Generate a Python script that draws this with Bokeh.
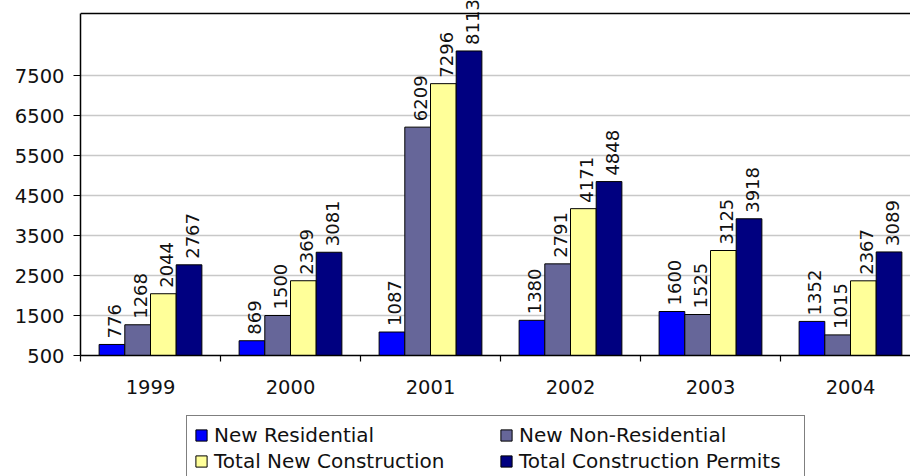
import math
from bokeh.plotting import figure
from bokeh.layouts import column
from bokeh.models import (ColumnDataSource, FixedTicker, Span, Legend, LegendItem, Range1d)
from bokeh.core.properties import value
from bokeh.embed import file_html
from bokeh.resources import INLINE

years = ["1999", "2000", "2001", "2002", "2003", "2004"]
series_names = ["New Residential", "New Non-Residential",
                "Total New Construction", "Total Construction Permits"]
new_residential = [776, 869, 1087, 1380, 1600, 1352]
new_non_residential = [1268, 1500, 6209, 2791, 1525, 1015]
total_new_construction = [2044, 2369, 7296, 4171, 3125, 2367]
total_construction_permits = [2767, 3081, 8113, 4848, 3918, 3089]
y_ticks = [500, 1500, 2500, 3500, 4500, 5500, 6500, 7500]

colors = ["#0000FF", "#666699", "#FFFF99", "#000080"]
all_series = [new_residential, new_non_residential,
              total_new_construction, total_construction_permits]

FONT = "DejaVu Sans"
BASE = 500
AXIS_TOP = 9050
bar_w = 0.1835
H1 = 410

p = figure(width=910, height=H1, output_backend="svg", toolbar_location=None,
           x_range=Range1d(0, 830 / 140), y_range=Range1d(BASE, 9375),
           min_border_left=80, min_border_right=0, min_border_top=0,
           min_border_bottom=H1 - 355)
p.title.visible = False
p.outline_line_color = None
p.background_fill_color = "white"
p.border_fill_color = "white"

# legend-only figure below the chart (its ranges keep the helper bars out of view)
p2 = figure(width=910, height=476 - H1, output_backend="svg", toolbar_location=None,
            x_range=Range1d(-20, -19), y_range=Range1d(-20, -19),
            min_border=0, x_axis_location=None, y_axis_location=None)
p2.title.visible = False
p2.outline_line_color = None
p2.grid.grid_line_color = None
p2.background_fill_color = "white"
p2.border_fill_color = "white"

legend_renderers = []
for k, (vals, col) in enumerate(zip(all_series, colors)):
    xs = [i + 0.5 + (k - 1.5) * bar_w for i in range(len(years))]
    src = ColumnDataSource(dict(x=xs, top=vals, lbl=[str(v) for v in vals]))
    p.vbar(x="x", top="top", bottom=BASE, width=bar_w, source=src,
           fill_color=col, line_color="black", line_width=1)
    p.text(x="x", y="top", text="lbl", source=src, angle=math.pi / 2,
           text_align="left", text_baseline="middle", x_offset=3, y_offset=-6,
           text_font=value(FONT), text_font_size="18px", text_color="#111111")
    r2 = p2.vbar(x="x", top="top", bottom=BASE, width=bar_w, source=src,
                 fill_color=col, line_color="black", line_width=1)
    legend_renderers.append(r2)

# top border line of the plot area
p.add_layout(Span(location=AXIS_TOP, dimension="width", line_color="black", line_width=1.5))

# axes
p.yaxis.ticker = FixedTicker(ticks=y_ticks)
p.yaxis.bounds = (BASE, AXIS_TOP)
p.yaxis.axis_line_color = "black"
p.yaxis.axis_line_width = 1.5
p.yaxis.major_tick_out = 7
p.yaxis.major_tick_in = 0
p.yaxis.major_tick_line_color = "black"
p.yaxis.minor_tick_line_color = None
p.yaxis.major_label_standoff = 9
p.yaxis.major_label_text_font = FONT
p.yaxis.major_label_text_font_size = "19.5px"
p.yaxis.major_label_text_color = "#111111"

centers = [i + 0.5 for i in range(len(years))]
p.xaxis.ticker = FixedTicker(ticks=centers, minor_ticks=list(range(len(years) + 1)))
p.xaxis.major_label_overrides = {c: y for c, y in zip(centers, years)}
p.xaxis.axis_line_color = "black"
p.xaxis.axis_line_width = 1.5
p.xaxis.major_tick_out = 0
p.xaxis.major_tick_in = 0
p.xaxis.minor_tick_out = 6
p.xaxis.minor_tick_in = 0
p.xaxis.minor_tick_line_color = "black"
p.xaxis.minor_tick_line_width = 1.2
p.xaxis.major_label_standoff = 18
p.xaxis.major_label_text_font = FONT
p.xaxis.major_label_text_font_size = "19.5px"
p.xaxis.major_label_text_color = "#111111"

p.xgrid.grid_line_color = None
p.ygrid.ticker = FixedTicker(ticks=y_ticks[1:])
p.ygrid.grid_line_color = "#c8c8c8"
p.ygrid.grid_line_width = 1.3

common = dict(glyph_width=14, glyph_height=14, label_standoff=6, label_height=23,
              spacing=2, padding=7, margin=0, orientation="vertical",
              label_text_font=FONT, label_text_font_size="20px",
              label_text_color="#111111")

# left column (framed box spanning the whole legend width)
legend_a = Legend(items=[LegendItem(label=series_names[0], renderers=[legend_renderers[0]]),
                         LegendItem(label=series_names[2], renderers=[legend_renderers[2]])],
                  location=(106, -5), label_width=583,
                  border_line_color="black", border_line_width=1,
                  background_fill_color="white", background_fill_alpha=1.0, **common)
# right column (transparent, inside the same box)
legend_b = Legend(items=[LegendItem(label=series_names[1], renderers=[legend_renderers[1]]),
                         LegendItem(label=series_names[3], renderers=[legend_renderers[3]])],
                  location=(419, 3), label_width=100,
                  border_line_color=None, background_fill_alpha=0.0, **common)
p2.add_layout(legend_a, "center")
p2.add_layout(legend_b, "center")

layout = column(p, p2, spacing=0)
open("out.html", "w").write(file_html(layout, INLINE))
